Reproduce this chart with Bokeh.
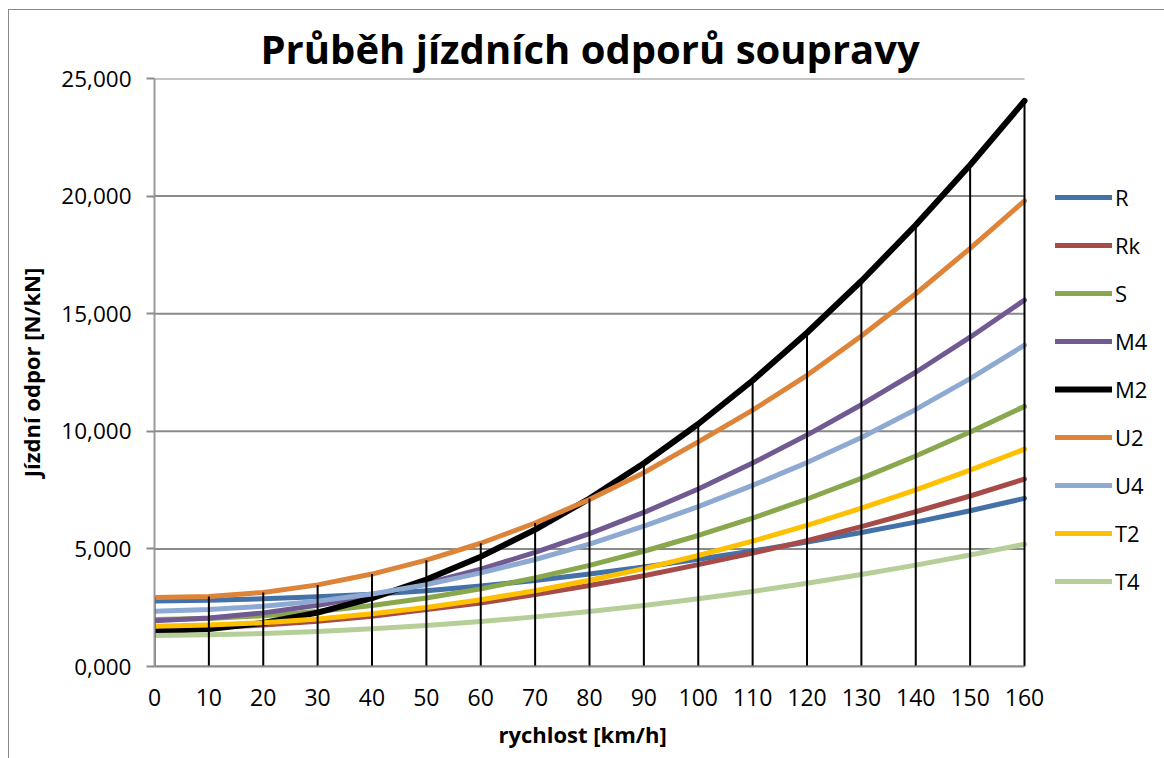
from bokeh.plotting import figure
from bokeh.models import Range1d, FixedTicker, Legend, LegendItem, Title
from bokeh.embed import file_html
from bokeh.resources import INLINE

speed = [0, 10, 20, 30, 40, 50, 60, 70, 80, 90, 100, 110, 120, 130, 140, 150, 160]

R  = [2.78, 2.82, 2.88, 2.97, 3.07, 3.22, 3.42, 3.66, 3.93, 4.23, 4.56, 4.91, 5.29, 5.70, 6.14, 6.62, 7.15]
Rk = [1.62, 1.66, 1.76, 1.92, 2.14, 2.42, 2.70, 3.06, 3.44, 3.86, 4.33, 4.82, 5.35, 5.95, 6.58, 7.25, 7.97]
S  = [2.00, 2.04, 2.16, 2.34, 2.59, 2.91, 3.30, 3.77, 4.30, 4.90, 5.57, 6.31, 7.12, 8.00, 8.95, 9.97, 11.06]
M4 = [1.94, 2.06, 2.28, 2.60, 3.02, 3.53, 4.14, 4.85, 5.65, 6.55, 7.55, 8.65, 9.84, 11.13, 12.51, 14.00, 15.58]
M2 = [1.50, 1.59, 1.85, 2.29, 2.91, 3.70, 4.67, 5.82, 7.14, 8.64, 10.31, 12.16, 14.19, 16.39, 18.77, 21.32, 24.05]
U2 = [2.93, 2.98, 3.15, 3.47, 3.93, 4.52, 5.24, 6.10, 7.10, 8.24, 9.55, 10.90, 12.38, 14.05, 15.85, 17.78, 19.80]
U4 = [2.35, 2.42, 2.56, 2.78, 3.08, 3.48, 3.98, 4.55, 5.20, 5.97, 6.80, 7.70, 8.67, 9.74, 10.93, 12.24, 13.66]
T2 = [1.71, 1.76, 1.86, 2.02, 2.24, 2.51, 2.84, 3.22, 3.67, 4.16, 4.72, 5.33, 6.00, 6.73, 7.51, 8.35, 9.24]
T4 = [1.32, 1.35, 1.40, 1.49, 1.60, 1.74, 1.91, 2.11, 2.34, 2.59, 2.88, 3.19, 3.54, 3.91, 4.31, 4.74, 5.20]

series_names = ["R", "Rk", "S", "M4", "M2", "U2", "U4", "T2", "T4"]
series_values = [R, Rk, S, M4, M2, U2, U4, T2, T4]
series_colors = ["#4472A8", "#A64B47", "#89A84E", "#715A92", "#000000",
                 "#DE8439", "#8EAAD3", "#FFC000", "#B6CF99"]
series_widths = [5, 5, 5, 5, 6, 5, 5, 5, 5]

y_ticks = [0, 5, 10, 15, 20, 25]
y_tick_labels = ["0,000", "5,000", "10,000", "15,000", "20,000", "25,000"]

title_text = "Průběh jízdních odporů soupravy"
x_label = "rychlost [km/h]"
y_label = "Jízdní odpor [N/kN]"

FONT = "Open Sans"
GRAY = "#8a8a8a"

# plot area: 870 px for 0..160 km/h; the frame is widened to the right to host the legend
PLOT_W = 870
FRAME_W = 1164 - 154
x_end = speed[-1] * FRAME_W / PLOT_W

p = figure(width=1164, height=758, output_backend="svg", toolbar_location=None,
           x_range=Range1d(0, x_end), y_range=Range1d(0, 25),
           min_border_left=154, min_border_right=0, min_border_top=78, min_border_bottom=92)
p.border_fill_alpha = 0
p.background_fill_color = "white"
p.styles = {"background": "linear-gradient(#8a8a8a,#8a8a8a) 8px 9px / 1px 100% no-repeat, "
                          "linear-gradient(#8a8a8a,#8a8a8a) 8px 9px / 100% 1px no-repeat, white"}

p.title.text = title_text
p.title.text_font = FONT
p.title.text_font_size = "40px"
p.title.text_font_style = "bold"
p.title.text_color = "#000000"
p.title.align = "left"
p.title.offset = 106
p.title.standoff = 5

p.outline_line_color = None
p.xgrid.grid_line_color = None
p.ygrid.grid_line_color = None

# horizontal gridlines limited to the plotted speed range
p.segment(x0=[speed[0]] * len(y_ticks), y0=y_ticks, x1=[speed[-1]] * len(y_ticks), y1=y_ticks,
          line_color=GRAY, line_width=2)

p.yaxis.ticker = FixedTicker(ticks=y_ticks)
p.yaxis.major_label_overrides = {t: s for t, s in zip(y_ticks, y_tick_labels)}
p.yaxis.axis_line_color = "#9a9a9a"
p.yaxis.axis_line_width = 2
p.yaxis.major_tick_line_color = GRAY
p.yaxis.major_tick_line_width = 2
p.yaxis.major_tick_out = 8
p.yaxis.major_tick_in = 0
p.yaxis.minor_tick_line_color = None
p.yaxis.major_label_standoff = 15
p.yaxis.axis_label = y_label
p.yaxis.axis_label_standoff = 12

p.xaxis.ticker = FixedTicker(ticks=speed)
p.xaxis.bounds = (speed[0], speed[-1])
p.xaxis.axis_line_color = GRAY
p.xaxis.axis_line_width = 2
p.xaxis.major_tick_line_color = None
p.xaxis.major_tick_out = 0
p.xaxis.major_tick_in = 0
p.xaxis.minor_tick_line_color = None
p.xaxis.major_label_standoff = 22

for ax in (p.xaxis[0], p.yaxis[0]):
    ax.major_label_text_font = FONT
    ax.major_label_text_color = "#000000"
    ax.axis_label_text_font = FONT
    ax.axis_label_text_font_size = "22px"
    ax.axis_label_text_font_style = "bold"
    ax.axis_label_text_color = "#000000"
p.yaxis.major_label_text_font_size = "22.5px"
p.xaxis.major_label_text_font_size = "23px"

# x-axis title, centred under the 0..160 part of the frame
xt = Title(text=x_label, align="left", offset=344, standoff=16,
           text_font=FONT, text_font_size="22px", text_font_style="bold", text_color="#000000")
p.add_layout(xt, "below")

items = []
for name, vals, col, w in zip(series_names, series_values, series_colors, series_widths):
    r = p.line(speed, vals, line_color=col, line_width=w, line_join="round", line_cap="round")
    items.append(LegendItem(label=name, renderers=[r]))

# drop lines from the highest series down to the axis
tops = [max(col) for col in zip(*series_values)]
p.segment(x0=speed, y0=[0] * len(speed), x1=speed, y1=tops, line_color="#000000", line_width=2)

legend = Legend(items=items, location=(901, 70), orientation="vertical",
                padding=0, margin=0, spacing=18, glyph_width=57, glyph_height=20,
                label_height=20, label_standoff=3,
                label_text_font=FONT, label_text_font_size="22px", label_text_color="#000000",
                border_line_color=None, background_fill_alpha=0)
p.add_layout(legend, "center")

open("out.html", "w").write(file_html(p, INLINE))
